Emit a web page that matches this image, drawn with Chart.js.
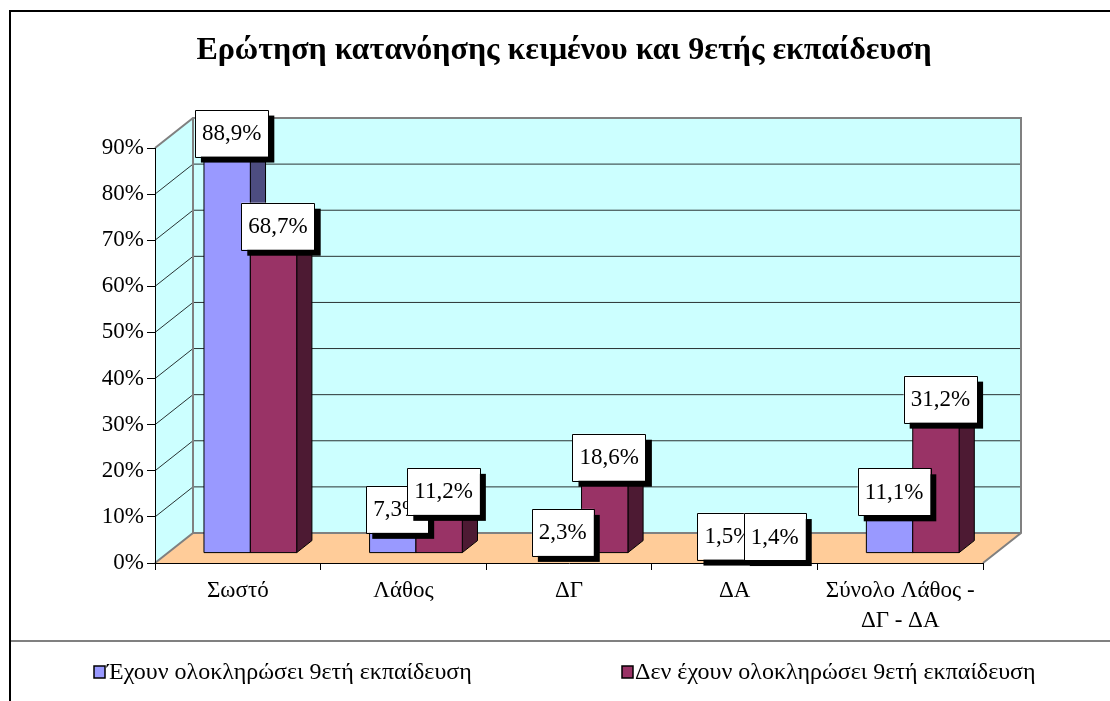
<!DOCTYPE html>
<html>
<head>
<meta charset="utf-8">
<script src="https://cdn.jsdelivr.net/npm/chart.js@4.4.1/dist/chart.umd.min.js"></script>
<style>
  html, body { margin: 0; padding: 0; background: #fff; }
  canvas { display: block; }
</style>
</head>
<body>
<canvas id="chart" width="1110" height="701"></canvas>
<script>
const chartTitle = 'Ερώτηση κατανόησης κειμένου και 9ετής εκπαίδευση';
const categories = ['Σωστό', 'Λάθος', 'ΔΓ', 'ΔΑ', ['Σύνολο Λάθος -', 'ΔΓ - ΔΑ']];
const seriesNames = ['Έχουν ολοκληρώσει 9ετή εκπαίδευση', 'Δεν έχουν ολοκληρώσει 9ετή εκπαίδευση'];
const completed = [88.9, 7.3, 2.3, 1.5, 11.1];
const notCompleted = [68.7, 11.2, 18.6, 1.4, 31.2];
const yMax = 90;
const yStep = 10;

const FONT = '"Liberation Serif", "Times New Roman", serif';
const frontColors = ['#9999FF', '#993366'];
const sideColors = ['#4D4D80', '#4D1A33'];
const topColors = ['#7A7ACC', '#7A2952'];

// depth of the 3D box (front plane -> back wall)
const DX = 38, DY = -30;
const D1 = 0.33, D2 = 0.73;

function fmt(v) {
    return v.toFixed(1).replace('.', ',') + '%';
}

function poly(ctx, pts, fill, stroke, lw) {
    ctx.beginPath();
    ctx.moveTo(pts[0][0], pts[0][1]);
    for (let i = 1; i < pts.length; i++) ctx.lineTo(pts[i][0], pts[i][1]);
    ctx.closePath();
    if (fill) { ctx.fillStyle = fill; ctx.fill(); }
    if (stroke) { ctx.strokeStyle = stroke; ctx.lineWidth = lw || 1; ctx.stroke(); }
}

const threeD = {
    id: 'threeD',
    beforeDraw(chart) {
        const ctx = chart.ctx;
        const a = chart.chartArea;
        const yScale = chart.scales.y;
        const L = a.left, R = a.right, T = a.top, B = a.bottom;
        ctx.save();
        ctx.fillStyle = '#fff';
        ctx.fillRect(0, 0, chart.width, chart.height);

        // walls and floor
        poly(ctx, [[L, T], [L + DX, T + DY], [L + DX, B + DY], [L, B]], '#CCFFFF');
        poly(ctx, [[L + DX, T + DY], [R + DX, T + DY], [R + DX, B + DY], [L + DX, B + DY]], '#CCFFFF');
        poly(ctx, [[L, B], [R, B], [R + DX, B + DY], [L + DX, B + DY]], '#FFCC99');

        // gridlines
        ctx.strokeStyle = 'rgba(0,0,0,0.8)';
        ctx.lineWidth = 1;
        for (let v = yStep; v < yMax; v += yStep) {
            const y = yScale.getPixelForValue(v);
            ctx.beginPath();
            ctx.moveTo(L, y);
            ctx.lineTo(L + DX, y + DY);
            ctx.lineTo(R + DX, y + DY);
            ctx.stroke();
        }

        // wall outlines
        ctx.strokeStyle = '#808080';
        ctx.lineWidth = 2;
        ctx.beginPath();
        ctx.moveTo(L, T); ctx.lineTo(L + DX, T + DY); ctx.lineTo(R + DX, T + DY); ctx.lineTo(R + DX, B + DY);
        ctx.lineTo(R, B);
        ctx.moveTo(R + DX, B + DY); ctx.lineTo(L + DX, B + DY); ctx.lineTo(L, B);
        ctx.moveTo(L + DX, T + DY); ctx.lineTo(L + DX, B + DY);
        ctx.stroke();
        ctx.restore();
    },
    beforeDatasetsDraw(chart) {
        const ctx = chart.ctx;
        const yScale = chart.scales.y;
        const n = chart.data.labels.length;
        const ddx = DX * (D2 - D1), ddy = DY * (D2 - D1);
        ctx.save();
        ctx.lineJoin = 'round';
        // boxes
        for (let i = 0; i < n; i++) {
            chart.data.datasets.forEach((ds, di) => {
                const el = chart.getDatasetMeta(di).data[i];
                const x0 = el.x - el.width / 2 + DX * D1;
                const x1 = el.x + el.width / 2 + DX * D1;
                const yt = el.y + DY * D1;
                const yb = el.base + DY * D1;
                poly(ctx, [[x0, yt], [x1, yt], [x1 + ddx, yt + ddy], [x0 + ddx, yt + ddy]], topColors[di], '#000', 1);
                poly(ctx, [[x1, yb], [x1, yt], [x1 + ddx, yt + ddy], [x1 + ddx, yb + ddy]], sideColors[di], '#000', 1);
                poly(ctx, [[x0, yt], [x1, yt], [x1, yb], [x0, yb]], frontColors[di], '#000', 1);
            });
        }
        // value labels
        ctx.font = '23px ' + FONT;
        ctx.textAlign = 'center';
        ctx.textBaseline = 'middle';
        for (let i = 0; i < n; i++) {
            chart.data.datasets.forEach((ds, di) => {
                const el = chart.getDatasetMeta(di).data[i];
                const txt = fmt(ds.data[i]);
                const w = ctx.measureText(txt).width + 14;
                const h = 47;
                const cx = el.x + 17;
                const cy = yScale.getPixelForValue(ds.data[i]) - 20;
                ctx.fillStyle = '#000';
                ctx.fillRect(cx - w / 2 + 6, cy - h / 2 + 6, w, h);
                ctx.fillStyle = '#fff';
                ctx.fillRect(cx - w / 2, cy - h / 2, w, h);
                ctx.strokeStyle = '#000';
                ctx.lineWidth = 1;
                ctx.strokeRect(Math.round(cx - w / 2) + 0.5, Math.round(cy - h / 2) + 0.5, Math.round(w), h);
                ctx.fillStyle = '#000';
                ctx.fillText(txt, cx, cy + 1);
            });
        }
        ctx.restore();
        return false;
    },
    afterDraw(chart) {
        const ctx = chart.ctx;
        ctx.save();
        // title
        ctx.font = 'bold 32px ' + FONT;
        ctx.fillStyle = '#000';
        ctx.textAlign = 'center';
        ctx.textBaseline = 'alphabetic';
        ctx.fillText(chartTitle, 564, 59);

        // separator and frame
        ctx.strokeStyle = '#808080';
        ctx.lineWidth = 2;
        ctx.beginPath();
        ctx.moveTo(10, 641); ctx.lineTo(1110, 641);
        ctx.stroke();
        ctx.strokeStyle = '#000';
        ctx.beginPath();
        ctx.moveTo(10, 701); ctx.lineTo(10, 11); ctx.lineTo(1110, 11);
        ctx.stroke();

        // legend
        const legendX = [94, 622];
        ctx.font = '24px ' + FONT;
        ctx.textAlign = 'left';
        chart.data.datasets.forEach((ds, di) => {
            const x = legendX[di];
            ctx.fillStyle = frontColors[di];
            ctx.fillRect(x, 666, 11, 12);
            ctx.strokeStyle = '#000';
            ctx.lineWidth = 1.5;
            ctx.strokeRect(x, 666, 11, 12);
            ctx.fillStyle = '#000';
            ctx.fillText(ds.label, x + 13, 679);
        });
        ctx.restore();
    }
};

new Chart(document.getElementById('chart'), {
    type: 'bar',
    data: {
        labels: categories,
        datasets: [
            { label: seriesNames[0], data: completed, backgroundColor: frontColors[0] },
            { label: seriesNames[1], data: notCompleted, backgroundColor: frontColors[1] }
        ]
    },
    options: {
        responsive: false,
        animation: false,
        events: [],
        layout: { padding: { left: 0, top: 148, right: 127, bottom: 0 } },
        datasets: { bar: { categoryPercentage: 0.56, barPercentage: 1 } },
        plugins: {
            legend: { display: false },
            title: { display: false },
            tooltip: { enabled: false }
        },
        scales: {
            x: {
                afterFit(scale) { scale.height = 138; },
                grid: { offset: true, drawOnChartArea: false, tickLength: 7, color: '#000' },
                border: { color: '#000', width: 1 },
                ticks: {
                    color: '#000', padding: 6, maxRotation: 0, autoSkip: false,
                    font: { family: FONT, size: 23, lineHeight: 1.3 }
                }
            },
            y: {
                min: 0,
                max: yMax,
                afterFit(scale) { scale.width = 155; },
                grid: { drawOnChartArea: false, tickLength: 8, color: '#000' },
                border: { color: '#000', width: 1 },
                ticks: {
                    stepSize: yStep, color: '#000', padding: 3,
                    font: { family: FONT, size: 23 },
                    callback: v => v + '%'
                }
            }
        }
    },
    plugins: [threeD]
});
</script>
</body>
</html>
